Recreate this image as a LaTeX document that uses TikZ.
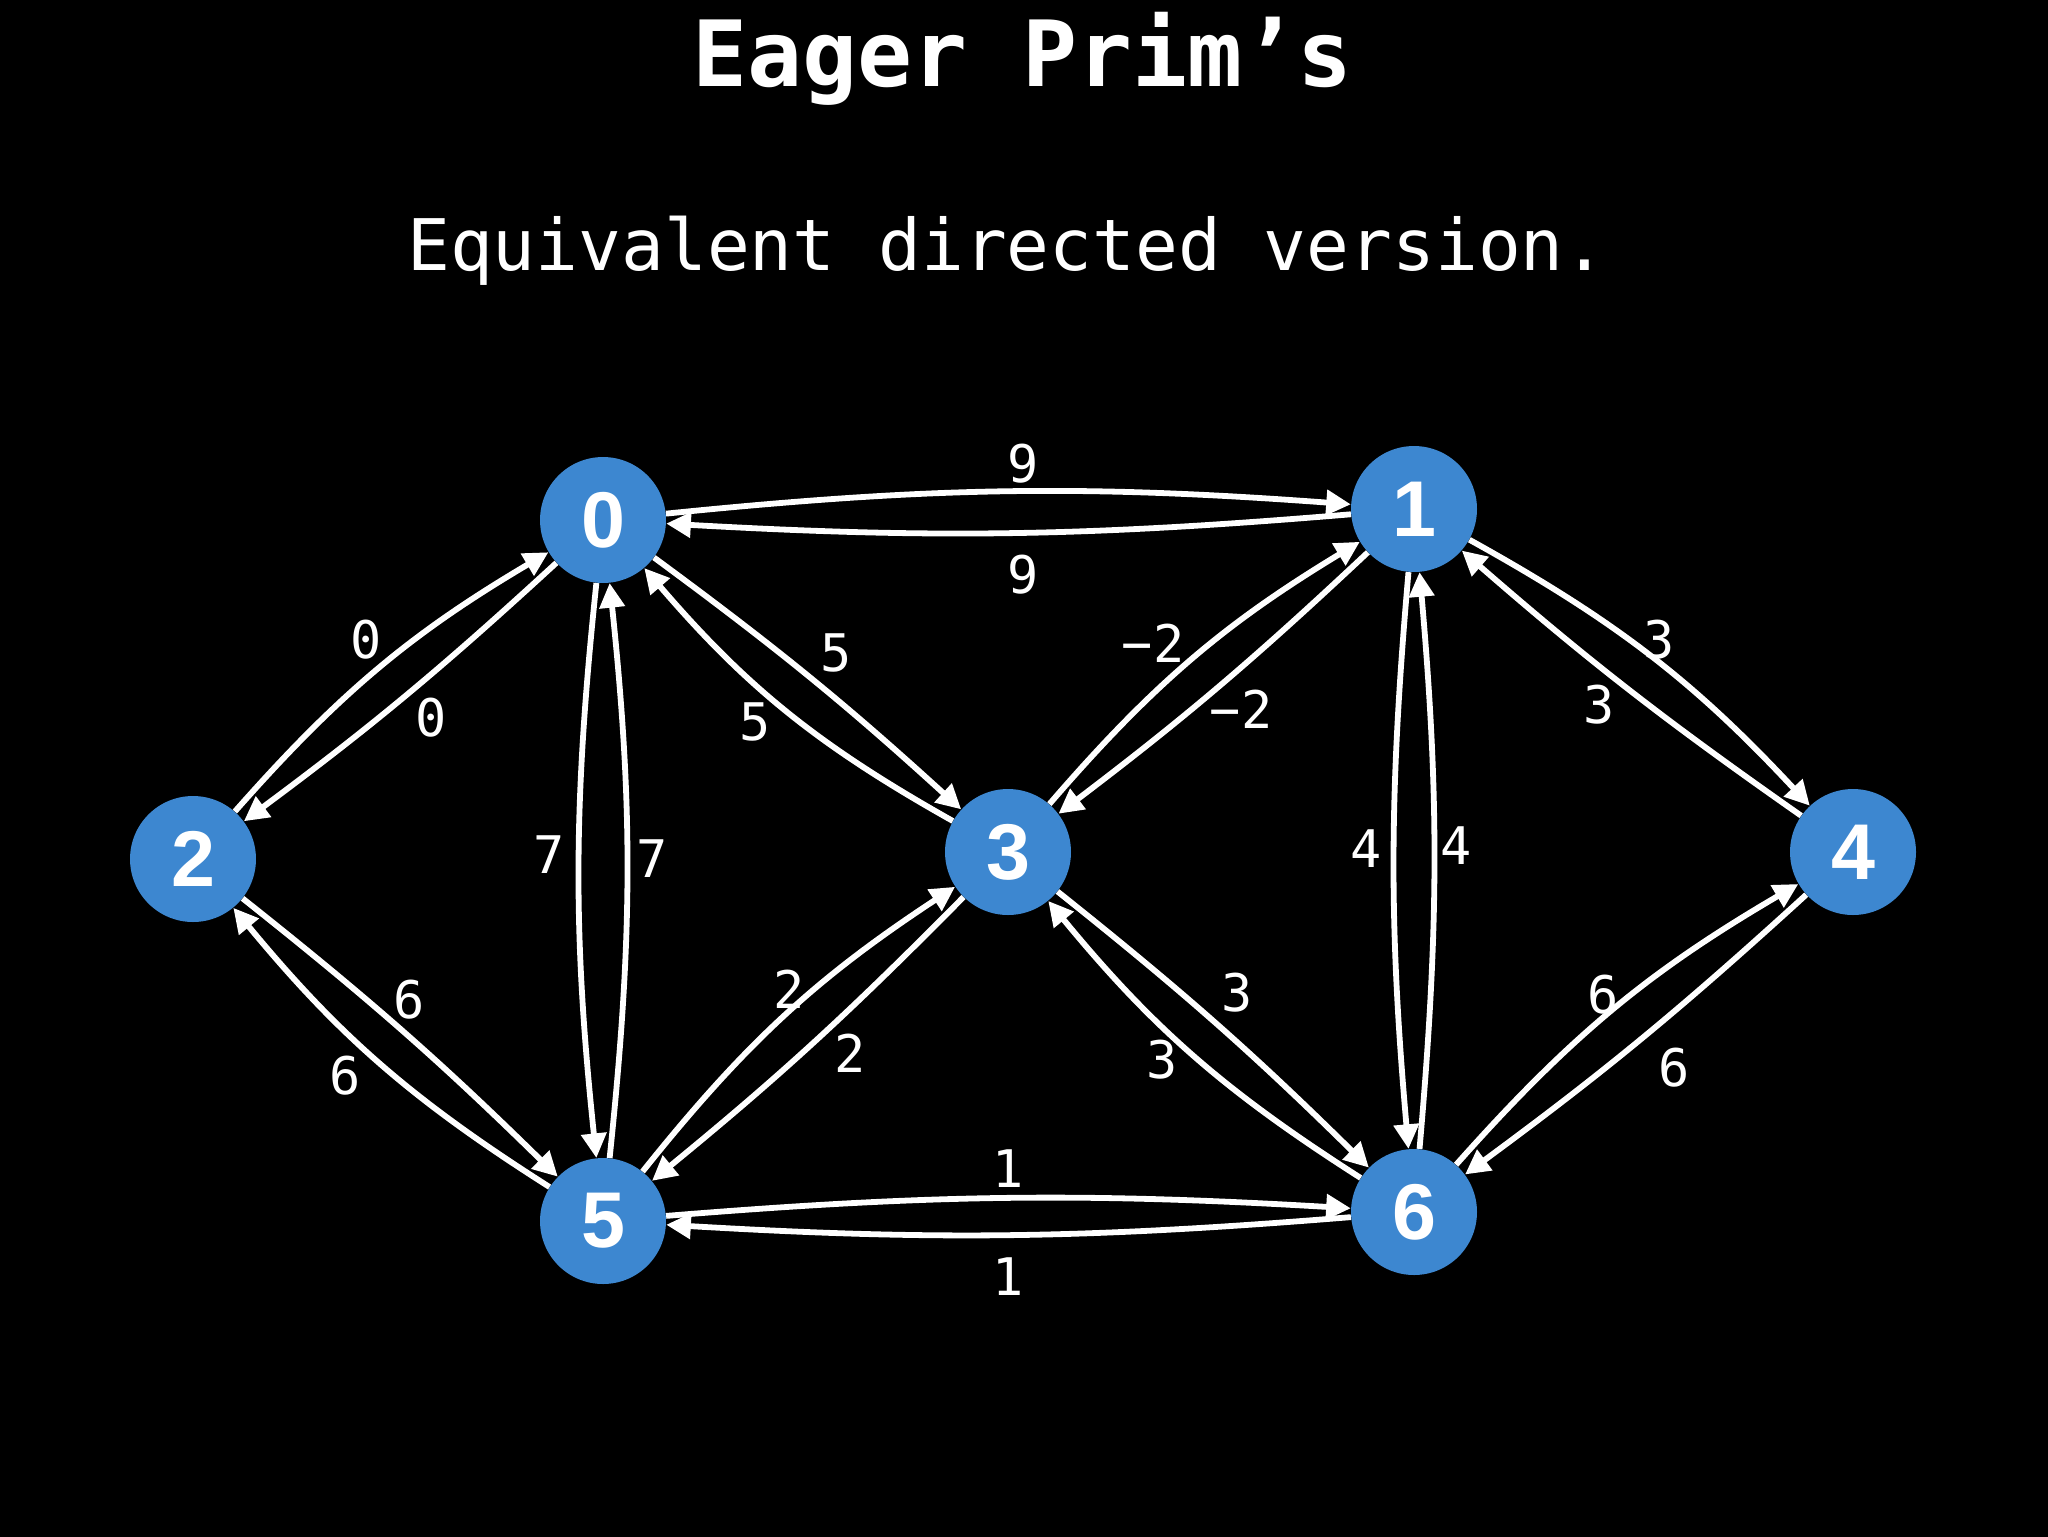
\documentclass[tikz,border=0pt]{standalone}
\usepackage{fontspec}
\setmainfont{DejaVu Sans Mono}
\newfontfamily\nodefont{Liberation Sans}
\usetikzlibrary{arrows.meta}
\definecolor{nodeblue}{RGB}{61,135,208}
\tikzset{
  vert/.style={circle, fill=nodeblue, minimum size=2.52cm, inner sep=0pt,
    text=white, font=\nodefont\fontsize{45}{45}\selectfont\bfseries},
  arr/.style={draw=white, line width=3.3pt, -{Triangle[length=14pt,width=14pt]}},
  wlab/.style={text=white, font=\fontsize{29.5}{30}\selectfont, inner sep=0pt},
}
\begin{document}
\begin{tikzpicture}[x=0.02cm, y=-0.02cm]
\useasboundingbox (0,0) rectangle (2048,1536);
\fill[black] (-20,-20) rectangle (2068,1556);
\node[text=white, anchor=base, font=\fontsize{52}{52}\selectfont\bfseries] (title) at (1023,86) {Eager Prim’s};
\node[text=white, anchor=base, font=\fontsize{40.5}{41}\selectfont] (sub) at (1007,270) {Equivalent directed version.};

\node[vert] (n0) at (603,520) {0};
\node[vert] (n1) at (1414,509) {1};
\node[vert] (n2) at (193,859) {2};
\node[vert] (n3) at (1008,852) {3};
\node[vert] (n4) at (1853,852) {4};
\node[vert] (n5) at (603,1221) {5};
\node[vert] (n6) at (1414,1212) {6};

\draw[arr] (n0) to[bend left=5] (n1);
\draw[arr] (n1) to[bend left=4] (n0);
\draw[arr] (n0) to[bend left=3] (n2);
\draw[arr] (n2) to[bend left=9] (n0);
\draw[arr] (n0) to[bend left=3] (n3);
\draw[arr] (n3) to[bend left=10] (n0);
\draw[arr] (n0) to[bend right=6] (n5);
\draw[arr] (n5) to[bend right=6] (n0);
\draw[arr] (n2) to[bend left=3] (n5);
\draw[arr] (n5) to[bend left=9] (n2);
\draw[arr] (n5) to[bend left=9] (n3);
\draw[arr] (n3) to[bend left=3] (n5);
\draw[arr] (n3) to[bend left=9] (n1);
\draw[arr] (n1) to[bend left=3] (n3);
\draw[arr] (n3) to[bend left=3] (n6);
\draw[arr] (n6) to[bend left=9] (n3);
\draw[arr] (n1) to[bend left=9] (n4);
\draw[arr] (n4) to[bend left=3] (n1);
\draw[arr] (n1) to[bend right=5] (n6);
\draw[arr] (n6) to[bend right=5] (n1);
\draw[arr] (n6) to[bend left=9] (n4);
\draw[arr] (n4) to[bend left=3] (n6);
\draw[arr] (n5) to[bend left=4] (n6);
\draw[arr] (n6) to[bend left=4] (n5);

\node[wlab] (l01) at (1023,464) {9};
\node[wlab] (l10) at (1023,575) {9};
\node[wlab] (l20) at (366,640) {0};
\node[wlab] (l02) at (431,718) {0};
\node[wlab] (l03) at (836,653) {5};
\node[wlab] (l30) at (755,722) {5};
\node[wlab] (l05) at (549,855) {7};
\node[wlab] (l50) at (652,859) {7};
\node[wlab] (l31) at (1153,643) {−2};
\node[wlab] (l13) at (1241,709) {−2};
\node[wlab] (l14) at (1659,640) {3};
\node[wlab] (l41) at (1599,705) {3};
\node[wlab] (l16) at (1366,849) {4};
\node[wlab] (l61) at (1456,846) {4};
\node[wlab] (l25) at (409,1000) {6};
\node[wlab] (l52) at (345,1076) {6};
\node[wlab] (l53) at (789,989) {2};
\node[wlab] (l35) at (850,1053) {2};
\node[wlab] (l36) at (1237,993) {3};
\node[wlab] (l63) at (1162,1060) {3};
\node[wlab] (l64) at (1603,995) {6};
\node[wlab] (l46) at (1674,1068) {6};
\node[wlab] (l56) at (1008,1169) {1};
\node[wlab] (l65) at (1008,1277) {1};
\end{tikzpicture}
\end{document}
